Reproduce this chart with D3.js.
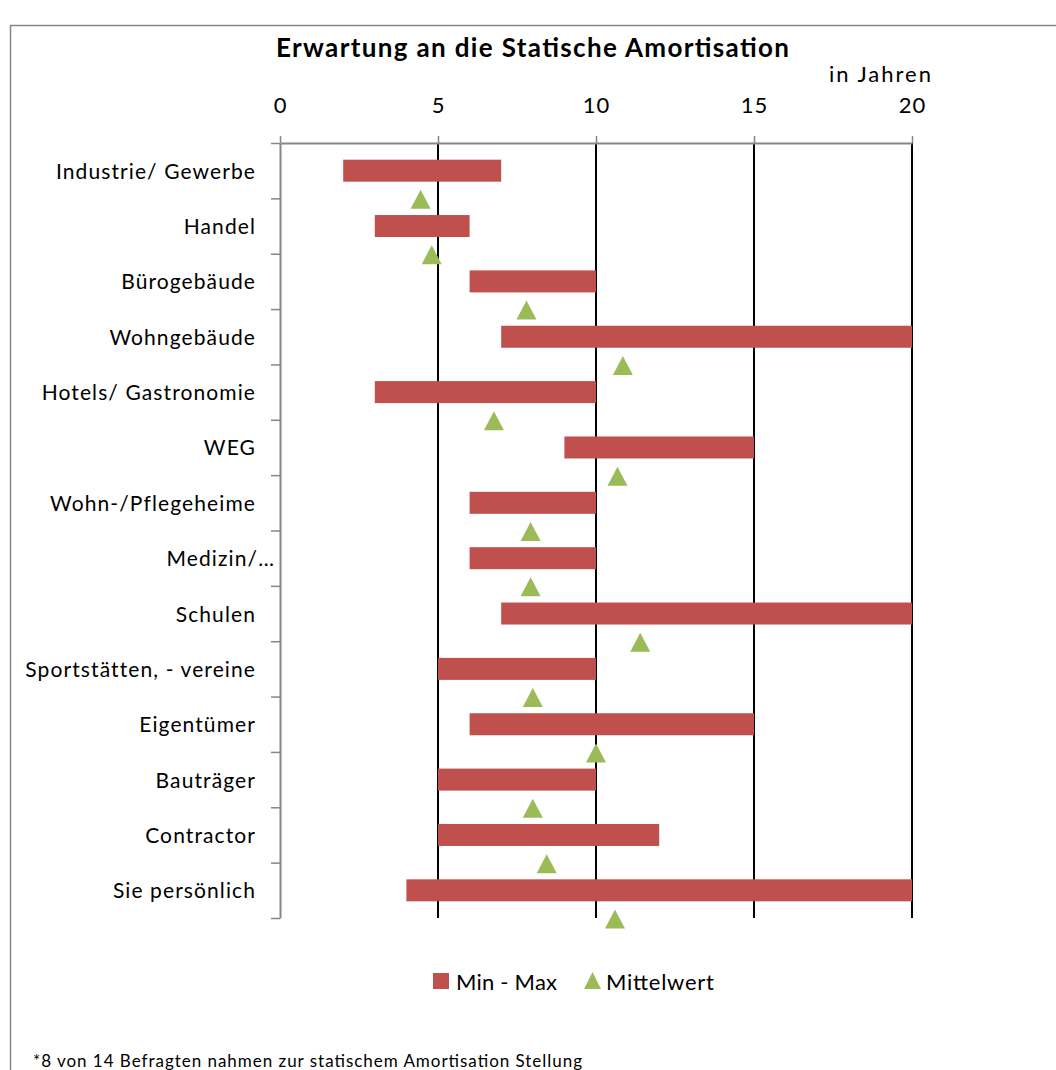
<!DOCTYPE html>
<html>
<head>
<meta charset="utf-8">
<script src="https://cdn.jsdelivr.net/npm/d3@7/dist/d3.min.js"></script>
<style>
  body { margin: 0; background: #fff; }
  text { font-family: Lato, "Open Sans", sans-serif; fill: #000; }
</style>
</head>
<body>
<svg id="chart" width="1056" height="1070"></svg>
<script>
const categories = [
    'Industrie/ Gewerbe', 'Handel', 'Bürogebäude', 'Wohngebäude',
    'Hotels/ Gastronomie', 'WEG', 'Wohn-/Pflegeheime', 'Medizin/…',
    'Schulen', 'Sportstätten, - vereine', 'Eigentümer', 'Bauträger',
    'Contractor', 'Sie persönlich'
];
const minValues  = [2, 3, 6, 7, 3, 9, 6, 6, 7, 5, 6, 5, 5, 4];
const maxValues  = [7, 6, 10, 20, 10, 15, 10, 10, 20, 10, 15, 10, 12, 20];
const meanValues = [4.45, 4.8, 7.8, 10.85, 6.77, 10.68, 7.93, 7.93, 11.4, 8.0, 10.0, 8.0, 8.44, 10.6];
const xTicks     = [0, 5, 10, 15, 20];

const title     = 'Erwartung an die Statische Amortisation';
const unitLabel = 'in Jahren';
const footnote  = '*8 von 14 Befragten nahmen zur statischem Amortisation Stellung';

const RED   = '#C0504D';
const GREEN = '#9BBB59';
const GREY  = '#868686';

const svg = d3.select('#chart');

// outer chart frame
svg.append('path')
    .attr('d', 'M10.5,1070 V25.5 H1056')
    .attr('fill', 'none')
    .attr('stroke', GREY)
    .attr('stroke-width', 1.5);

const x = d3.scaleLinear().domain([0, 20]).range([280, 912]);
const y = d3.scaleBand().domain(categories).range([143, 918]).padding(0);
const yIdx = d3.scaleLinear().domain([0, categories.length]).range([143, 918]);

// vertical gridlines
svg.append('g')
    .selectAll('line')
    .data(xTicks.filter(d => d > 0))
    .join('line')
    .attr('x1', d => x(d)).attr('x2', d => x(d))
    .attr('y1', y.range()[0]).attr('y2', y.range()[1])
    .attr('stroke', '#000')
    .attr('stroke-width', 2);

// top value axis
const xAxis = svg.append('g')
    .attr('transform', `translate(0,${y.range()[0]})`)
    .call(d3.axisTop(x).tickValues(xTicks).tickSize(7).tickPadding(23).tickSizeOuter(0));
xAxis.select('.domain').attr('stroke', GREY).attr('stroke-width', 2);
xAxis.selectAll('.tick line').attr('stroke', GREY).attr('stroke-width', 1.5);
xAxis.selectAll('.tick text')
    .attr('font-family', 'Lato, sans-serif')
    .attr('font-size', 22)
    .attr('letter-spacing', 1)
    .attr('fill', '#000');

// left category axis (ticks between categories)
const yAxis = svg.append('g')
    .attr('transform', `translate(${x(0)},0)`)
    .call(d3.axisLeft(yIdx).tickValues(d3.range(categories.length + 1)).tickSize(9).tickFormat('').tickSizeOuter(0));
yAxis.select('.domain').attr('stroke', GREY).attr('stroke-width', 2);
yAxis.selectAll('.tick line').attr('stroke', GREY).attr('stroke-width', 1.5);

// category labels
svg.append('g')
    .selectAll('text')
    .data(categories)
    .join('text')
    .attr('x', d => d.endsWith('…') ? 275 : 256)
    .attr('y', d => y(d) + y.bandwidth() / 2 + 8)
    .attr('text-anchor', 'end')
    .attr('font-size', 21)
    .attr('letter-spacing', 1.1)
    .text(d => d);

// min-max bars
const barH = 22;
svg.append('g')
    .selectAll('rect')
    .data(categories)
    .join('rect')
    .attr('x', (d, i) => x(minValues[i]))
    .attr('width', (d, i) => x(maxValues[i]) - x(minValues[i]))
    .attr('y', d => y(d) + y.bandwidth() / 2 - barH / 2)
    .attr('height', barH)
    .attr('fill', RED);

// mean markers
const triW = 20, triH = 19;
function triangle(cx, cy) {
    const p = d3.path();
    p.moveTo(cx, cy - triH / 2);
    p.lineTo(cx + triW / 2, cy + triH / 2);
    p.lineTo(cx - triW / 2, cy + triH / 2);
    p.closePath();
    return p.toString();
}
svg.append('g')
    .selectAll('path')
    .data(categories)
    .join('path')
    .attr('d', (d, i) => triangle(x(meanValues[i]), y(d) + y.bandwidth() + 1))
    .attr('fill', GREEN);

// titles
svg.append('text')
    .attr('x', 276).attr('y', 57)
    .attr('font-size', 26)
    .attr('font-weight', 'bold')
    .attr('textLength', 513)
    .attr('lengthAdjust', 'spacing')
    .text(title);

svg.append('text')
    .attr('x', 829).attr('y', 82)
    .attr('font-size', 22)
    .attr('textLength', 102)
    .attr('lengthAdjust', 'spacing')
    .text(unitLabel);

// legend
const legend = svg.append('g');
legend.append('rect')
    .attr('x', 433).attr('y', 973).attr('width', 16).attr('height', 16)
    .attr('fill', RED);
legend.append('text')
    .attr('x', 456).attr('y', 990)
    .attr('font-size', 22)
    .attr('textLength', 101)
    .attr('lengthAdjust', 'spacing')
    .text('Min - Max');
legend.append('path')
    .attr('d', 'M592.5,972 L601,989 L584,989 Z')
    .attr('fill', GREEN);
legend.append('text')
    .attr('x', 606).attr('y', 990)
    .attr('font-size', 22)
    .attr('textLength', 108)
    .attr('lengthAdjust', 'spacing')
    .text('Mittelwert');

// footnote
svg.append('text')
    .attr('x', 33).attr('y', 1067)
    .attr('font-size', 17)
    .attr('textLength', 549)
    .attr('lengthAdjust', 'spacing')
    .text(footnote);
</script>
</body>
</html>
